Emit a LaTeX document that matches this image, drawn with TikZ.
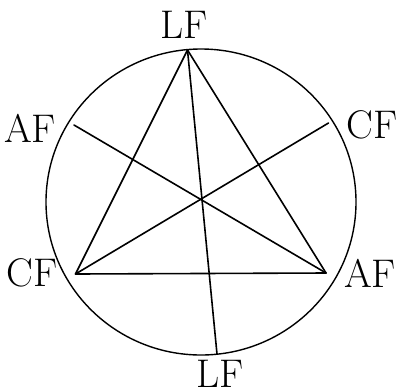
\documentclass[tikz,border=0pt]{standalone}
\begin{document}
\begin{tikzpicture}[x=1pt,y=-1pt,
  ln/.style={line width=1.6pt,line cap=round},
  rim/.style={line width=1.4pt},
  lab/.style={inner sep=0pt,font=\fontsize{40}{40}\selectfont}]
\useasboundingbox (0,0) rectangle (398,389);
\draw[rim] (201,202) ellipse [x radius=155, y radius=153];
% vertices and end points
\coordinate (T) at (187.5,50);
\coordinate (BL) at (75.5,274);
\coordinate (BR) at (326,273);
\coordinate (EL) at (74,125);
\coordinate (ER) at (328.5,123);
\coordinate (EB) at (217,354);
% triangle
\draw[ln] (T) -- (BL);
\draw[ln] (T) -- (BR);
\draw[ln] (BL) -- (BR);
% lines through the centre
\draw[ln] (EL) -- (BR);
\draw[ln] (ER) -- (BL);
\draw[ln] (T) -- (EB);
% labels
\node[lab] (lt) at (184,25) {LF};
\node[lab] (al) at (30,128) {AF};
\node[lab] (cr) at (372,125) {CF};
\node[lab] (cl) at (32,273) {CF};
\node[lab] (ar) at (370,273) {AF};
\node[lab] (lb) at (220,374) {LF};
\end{tikzpicture}
\end{document}
